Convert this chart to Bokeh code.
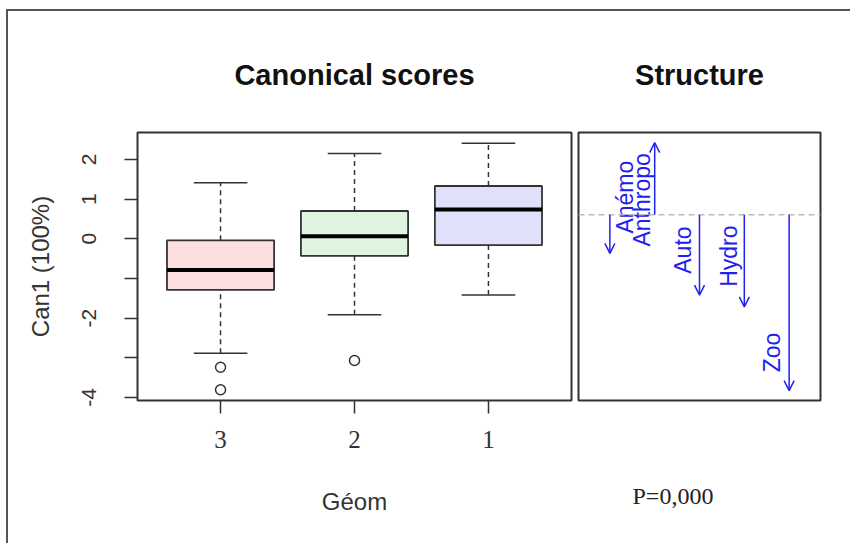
import numpy as np
from bokeh.plotting import figure
from bokeh.models import (ColumnDataSource, FactorRange, Range1d, FixedTicker,
                          Span, Arrow, OpenHead, Title)
from bokeh.transform import dodge
from bokeh.layouts import row
from bokeh.embed import file_html
from bokeh.resources import INLINE
from bokeh.core.properties import value

# ---------------- data ----------------
groups = ["3", "2", "1"]
q1 = [-1.29, -0.43, -0.16]
median = [-0.79, 0.06, 0.74]
q3 = [-0.04, 0.70, 1.33]
lower_whisker = [-2.89, -1.92, -1.42]
upper_whisker = [1.41, 2.15, 2.41]
outlier_group = ["3", "3", "2"]
outlier_value = [-3.24, -3.81, -3.07]
box_colors = ["#FDDFDF", "#DFF5DF", "#DFE0FA"]

y_ticks = [-4, -3, -2, -1, 0, 1, 2]
y_tick_labels = {-4: "-4", -3: "", -2: "-2", -1: "", 0: "0", 1: "1", 2: "2"}

variables = ["Anémo", "Anthropo", "Auto", "Hydro", "Zoo"]
structure = [-0.209, 0.389, -0.435, -0.498, -0.951]
p_value_text = "P=0,000"

# label layout (offsets relative to arrow position / tip)
label_dx = [0.34, -0.29, -0.375, -0.34, -0.39]
label_dy = [0.107, -0.561, 0.116, 0.108, 0.099]

SANS = "Liberation Sans"
SERIF = "Liberation Serif"
DARK = "#333333"

# ---------------- left panel: canonical scores ----------------
L = figure(width=566, height=532,
           x_range=FactorRange(*groups, range_padding=0.08),
           y_range=Range1d(-4.08, 2.68),
           output_backend="svg", toolbar_location=None,
           min_border_left=129, min_border_right=3,
           min_border_top=121, min_border_bottom=143)
L.grid.visible = False
L.outline_line_color = DARK
L.outline_line_width = 2
L.background_fill_color = "white"
L.border_fill_color = "white"

src = ColumnDataSource(dict(grp=groups, q1=q1, q3=q3, med=median,
                            lw=lower_whisker, uw=upper_whisker, color=box_colors))

L.segment(x0="grp", y0="q3", x1="grp", y1="uw", line_dash="5 4",
          line_color=DARK, line_width=1.5, source=src)
L.segment(x0="grp", y0="lw", x1="grp", y1="q1", line_dash="5 4",
          line_color=DARK, line_width=1.5, source=src)
L.segment(x0=dodge("grp", -0.2, range=L.x_range), y0="uw",
          x1=dodge("grp", 0.2, range=L.x_range), y1="uw",
          line_color=DARK, line_width=1.5, source=src)
L.segment(x0=dodge("grp", -0.2, range=L.x_range), y0="lw",
          x1=dodge("grp", 0.2, range=L.x_range), y1="lw",
          line_color=DARK, line_width=1.5, source=src)
L.vbar(x="grp", width=0.8, bottom="q1", top="q3", fill_color="color",
       line_color=DARK, line_width=1.8, source=src)
L.segment(x0=dodge("grp", -0.4, range=L.x_range), y0="med",
          x1=dodge("grp", 0.4, range=L.x_range), y1="med",
          line_color="black", line_width=4, source=src)
L.scatter(x=outlier_group, y=outlier_value, marker="circle", size=10,
          fill_color=None, line_color=DARK, line_width=1.5)

L.title.text = "Canonical scores"
L.title.align = "center"
L.title.text_font = SANS
L.title.text_font_size = "29px"
L.title.text_font_style = "bold"
L.title.text_color = "#111111"
L.title.standoff = 84

L.yaxis.ticker = FixedTicker(ticks=y_ticks)
L.yaxis.major_label_overrides = y_tick_labels
L.yaxis.major_label_orientation = "vertical"
L.yaxis.axis_label = "Can1 (100%)"
L.xaxis.axis_label = "Géom"
for ax in (L.xaxis[0], L.yaxis[0]):
    ax.axis_line_color = None
    ax.minor_tick_line_color = None
    ax.major_tick_in = 0
    ax.major_tick_out = 13
    ax.major_tick_line_color = DARK
    ax.major_tick_line_width = 1.5
    ax.axis_label_text_font = SANS
    ax.axis_label_text_font_size = "24px"
    ax.axis_label_text_font_style = "normal"
    ax.axis_label_text_color = "#333333"
    ax.major_label_text_color = "#333333"
L.yaxis.major_label_text_font = SANS
L.yaxis.major_label_text_font_size = "21px"
L.yaxis.major_label_standoff = 28
L.yaxis.axis_label_standoff = 26
L.xaxis.major_label_text_font = SERIF
L.xaxis.major_label_text_font_size = "25px"
L.xaxis.major_label_standoff = 17
L.xaxis.axis_label_standoff = 37

# ---------------- right panel: structure ----------------
R = figure(width=276, height=532,
           x_range=Range1d(0.3, 5.7), y_range=Range1d(-1.004, 0.444),
           output_backend="svg", toolbar_location=None,
           min_border_left=4, min_border_right=30,
           min_border_top=121, min_border_bottom=143)
R.grid.visible = False
R.yaxis.visible = False
# bottom axis used only as an invisible spacer below the frame
R.xaxis.ticker = FixedTicker(ticks=[5.5])
R.xaxis.major_label_overrides = {5.5: ""}
R.xaxis.major_label_text_font_size = "1px"
R.xaxis.axis_line_color = None
R.xaxis.major_tick_line_color = "white"
R.xaxis.minor_tick_line_color = None
R.xaxis.major_tick_in = -4
R.xaxis.major_tick_out = 64
R.xaxis.major_label_standoff = 0
R.outline_line_color = DARK
R.outline_line_width = 2
R.background_fill_color = "white"
R.border_fill_color = "white"

R.title.text = "Structure"
R.title.align = "center"
R.title.text_font = SANS
R.title.text_font_size = "29px"
R.title.text_font_style = "bold"
R.title.text_color = "#111111"
R.title.standoff = 84

R.add_layout(Span(location=0, dimension="width", line_color="#BBBBBB",
                  line_dash="6 4", line_width=1.5))

xpos = [i + 1 for i in range(len(variables))]
asrc = ColumnDataSource(dict(x=xpos, y0=[0.0] * len(variables), y1=structure))
R.add_layout(Arrow(end=OpenHead(size=10, line_color="#2020F0", line_width=1.5),
                   x_start="x", y_start="y0", x_end="x", y_end="y1",
                   line_color="#2020F0", line_width=1.5, source=asrc))

lab_x = [x + d for x, d in zip(xpos, label_dx)]
lab_y = [s + d for s, d in zip(structure, label_dy)]
R.text(x=lab_x, y=lab_y, text=variables, angle=np.pi / 2,
       text_align="left", text_baseline="middle",
       text_font=value(SANS), text_font_size="23px", text_color="#2020F0")

R.add_layout(Title(text=p_value_text, align="left", offset=54,
                   text_font=SERIF, text_font_size="24px",
                   text_font_style="normal", text_color="#222222",
                   standoff=32), "below")

layout = row(L, R, styles={"border-left": "2px solid #555555",
                           "border-top": "2px solid #555555",
                           "margin-left": "6px", "margin-top": "9px",
                           "background-color": "white"})

open("out.html", "w").write(file_html(layout, INLINE))
